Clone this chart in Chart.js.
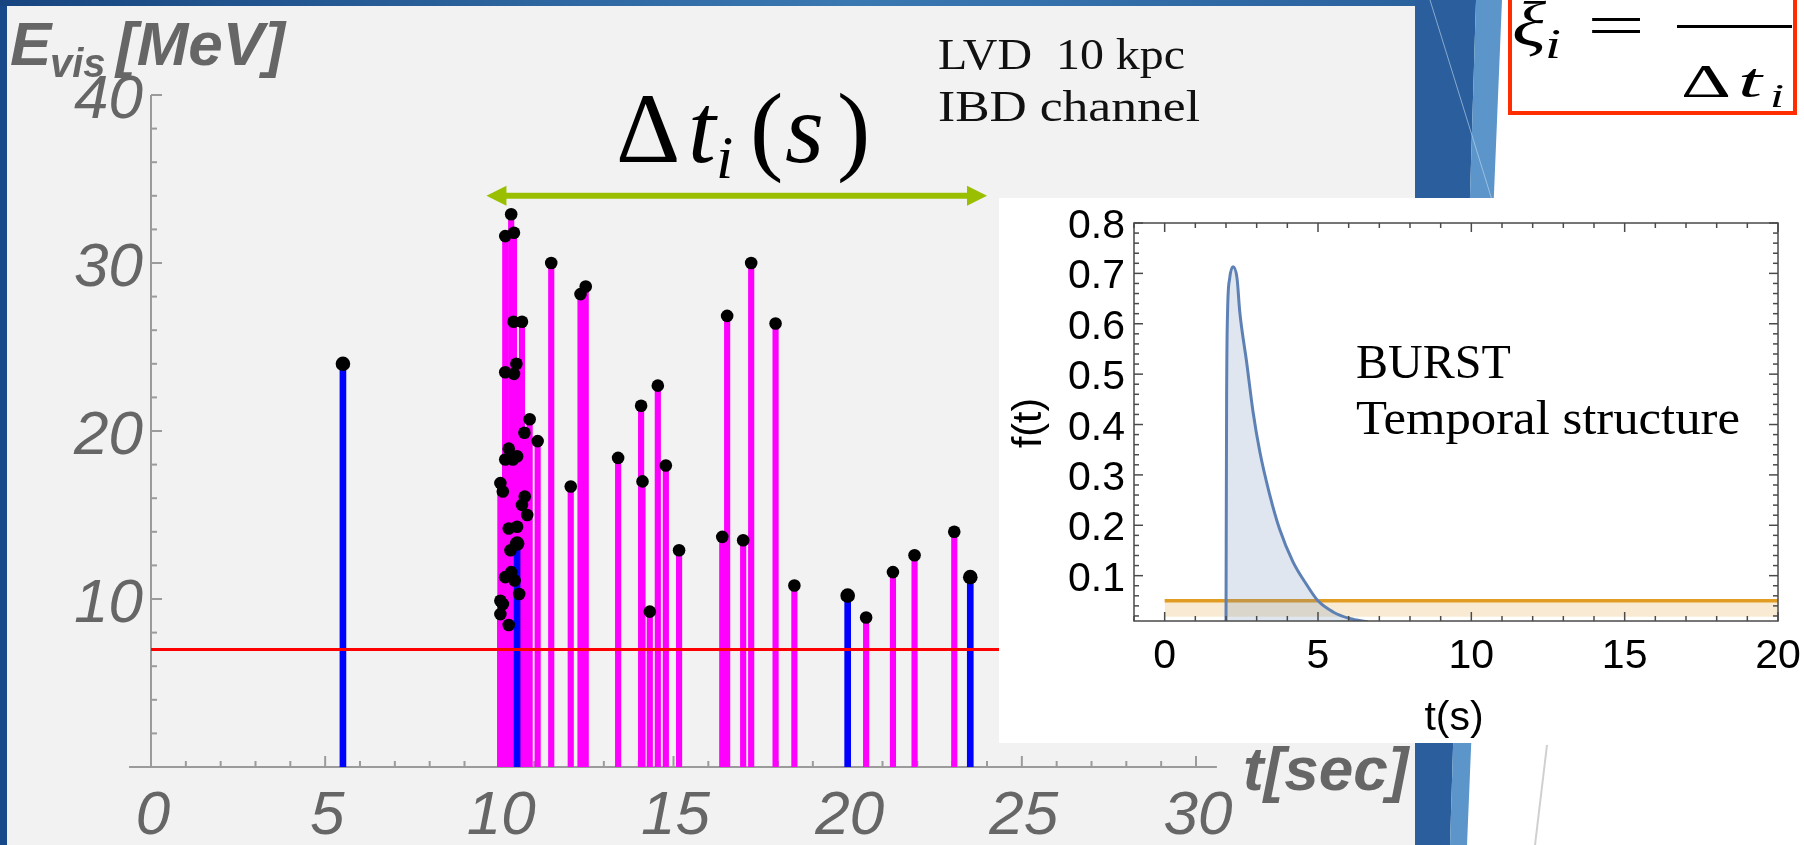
<!DOCTYPE html>
<html>
<head>
<meta charset="utf-8">
<script src="https://cdn.jsdelivr.net/npm/chart.js@4"></script>
<style>
    html, body { margin: 0; padding: 0; background: #fff; overflow: hidden; }
    #wrap { position: relative; width: 1804px; height: 845px; }
    #mainChart { position: absolute; left: 0; top: 0; }
    #insetChart { position: absolute; left: 999px; top: 198px; }
</style>
</head>
<body>
<div id="wrap">
    <canvas id="mainChart" width="1804" height="845"></canvas>
    <canvas id="insetChart" width="805" height="545"></canvas>
</div>
<script>
// events (time in s, visible energy in MeV)
const magentaTimes = [10.03, 10.03, 10.03, 10.10, 10.10, 10.17, 10.17, 10.17, 10.17, 10.27, 10.27, 10.27,
    10.32, 10.34, 10.34, 10.39, 10.41, 10.42, 10.42, 10.44, 10.49, 10.51, 10.51, 10.57, 10.65, 10.65,
    10.72, 10.73, 10.80, 10.87, 11.10, 11.49, 12.05, 12.33, 12.48, 13.41, 14.07, 14.11, 14.32, 14.55,
    14.78, 15.16, 16.40, 16.54, 17.00, 17.23, 17.93, 18.47, 20.53, 21.30, 21.92, 23.06];
const magentaEnergies = [16.9, 9.9, 9.1, 16.4, 9.7, 31.6, 23.5, 18.3, 11.3, 18.95, 14.2, 8.45,
    12.9, 32.9, 11.6, 18.3, 26.5, 31.8, 23.4, 11.1, 24.0, 18.5, 14.3, 10.3, 26.5, 15.6,
    19.9, 16.1, 15.0, 20.7, 19.4, 30.0, 16.7, 28.15, 28.6, 18.4, 21.5, 17.0, 9.25, 22.7,
    17.95, 12.9, 13.7, 26.85, 13.5, 30.0, 26.4, 10.8, 8.9, 11.6, 12.6, 14.0];
const blueTimes = [5.51, 10.51, 20.0, 23.52];
const blueEnergies = [24.0, 13.3, 10.2, 11.3];
const threshold = 7;
const timeTicks = [0, 5, 10, 15, 20, 25, 30];
const energyTicks = [10, 20, 30, 40];
const windowSpan = [9.63, 24.0];   // the green Δt arrow
const windowLevel = 34;

// inset: burst temporal structure f(t) and flat background
const burstT = [2.0, 2.02, 2.05, 2.12, 2.23, 2.36, 2.45, 2.67, 2.88, 3.10, 3.42, 3.75, 4.18, 4.62, 5.0, 5.49, 6.03, 6.63];
const burstF = [0.0, 0.45, 0.62, 0.69, 0.713, 0.69, 0.623, 0.525, 0.426, 0.347, 0.262, 0.192, 0.128, 0.083, 0.05, 0.028, 0.015, 0.008];
const bkgT = [0, 20];
const bkgF = [0.05, 0.05];
const insetXTicks = [0, 5, 10, 15, 20];
const insetYTicks = [0.1, 0.2, 0.3, 0.4, 0.5, 0.6, 0.7, 0.8];

const GRAY = '#666666';
const toPoints = (xs, ys) => xs.map((v, i) => ({ x: v, y: ys[i] }));

function seg(ctx, x1, y1, x2, y2) {
    ctx.beginPath();
    ctx.moveTo(x1, y1);
    ctx.lineTo(x2, y2);
    ctx.stroke();
}

function poly(ctx, pts) {
    ctx.beginPath();
    pts.forEach(([px, py], i) => i ? ctx.lineTo(px, py) : ctx.moveTo(px, py));
    ctx.closePath();
    ctx.fill();
}

// text squeezed/stretched horizontally to a given width (the slide images are stretched)
function fitText(ctx, text, x, y, w) {
    const m = ctx.measureText(text).width;
    ctx.save();
    ctx.translate(x, y);
    ctx.scale(w / m, 1);
    ctx.fillText(text, 0, 0);
    ctx.restore();
}

const slidePlugin = {
    id: 'slide',
    beforeDraw(chart) {
        const ctx = chart.ctx;
        ctx.save();
        ctx.fillStyle = '#ffffff';
        ctx.fillRect(0, 0, chart.width, chart.height);
        ctx.fillStyle = '#f2f2f2';
        ctx.fillRect(7, 6, 1408, 839);

        // blue slide decoration on the right
        ctx.fillStyle = '#2a5e9d';
        poly(ctx, [[1415, 0], [1476, 0], [1450, 845], [1415, 845]]);
        ctx.fillStyle = '#5b95ca';
        poly(ctx, [[1476, 0], [1502, 0], [1467, 845], [1450, 845]]);
        ctx.strokeStyle = 'rgba(200,220,240,0.6)';
        ctx.lineWidth = 1;
        seg(ctx, 1430, 0, 1492, 200);
        ctx.strokeStyle = '#d0d0d0';
        ctx.lineWidth = 2;
        seg(ctx, 1547, 745, 1535, 845);

        // left and top bars
        ctx.fillStyle = '#184a8b';
        ctx.fillRect(0, 0, 7, 845);
        const g = ctx.createLinearGradient(0, 0, 1415, 0);
        g.addColorStop(0, '#17457f');
        g.addColorStop(0.6, '#3a78b2');
        g.addColorStop(1, '#2a629e');
        ctx.fillStyle = g;
        ctx.fillRect(0, 0, 1415, 6);
        ctx.restore();
    },
    beforeDatasetsDraw(chart) {
        const { ctx, scales: { x, y } } = chart;
        const x0 = x.getPixelForValue(0);
        const y0 = y.getPixelForValue(0);
        ctx.save();
        ctx.strokeStyle = '#9b9b9b';
        ctx.lineWidth = 2;
        seg(ctx, x.getPixelForValue(-0.63), y0, x.getPixelForValue(30.6), y0);
        seg(ctx, x0, y0, x0, y.getPixelForValue(40));
        for (let t = 1; t <= 30; t++) {
            const px = x.getPixelForValue(t);
            seg(ctx, px, y0, px, y0 - (t % 5 === 0 ? 11 : 6));
        }
        for (let e = 2; e <= 40; e += 2) {
            const py = y.getPixelForValue(e);
            seg(ctx, x0, py, x0 + (e % 10 === 0 ? 11 : 6), py);
        }
        ctx.restore();
    },
    afterDraw(chart) {
        const { ctx, scales: { x, y } } = chart;
        const x0 = x.getPixelForValue(0);
        ctx.save();

        // tick labels
        ctx.fillStyle = GRAY;
        ctx.font = 'italic 62px "Liberation Sans"';
        ctx.textAlign = 'right';
        ctx.textBaseline = 'alphabetic';
        energyTicks.forEach(e => ctx.fillText(String(e), x0 - 8, y.getPixelForValue(e) + 23));
        ctx.textAlign = 'center';
        timeTicks.forEach(t => ctx.fillText(String(t), x.getPixelForValue(t) + 2, 834));

        // axis titles
        ctx.textAlign = 'left';
        ctx.font = 'bold italic 62px "Liberation Sans"';
        ctx.fillText('E', 10, 65);
        ctx.fillText('[MeV]', 116, 65);
        ctx.fillText('t[sec]', 1243, 790);
        ctx.font = 'bold italic 40px "Liberation Sans"';
        ctx.fillText('vis', 50, 77);

        // detector text
        ctx.fillStyle = '#111';
        ctx.font = '44px "Liberation Serif"';
        fitText(ctx, 'LVD  10 kpc', 938, 69, 247);
        fitText(ctx, 'IBD channel', 938, 121, 262);

        // Δt_i(s)
        ctx.fillStyle = '#000';
        ctx.font = '100px "Liberation Serif"';
        ctx.fillText('Δ', 616, 162);
        ctx.fillText('(', 750, 162);
        ctx.fillText(')', 837, 162);
        ctx.font = 'italic 100px "Liberation Serif"';
        ctx.fillText('t', 688, 162);
        ctx.fillText('s', 785, 162);
        ctx.font = 'italic 62px "Liberation Serif"';
        ctx.fillText('i', 716, 178);

        // green double arrow
        const ya = y.getPixelForValue(windowLevel);
        const xl = x.getPixelForValue(windowSpan[0]);
        const xr = x.getPixelForValue(windowSpan[1]);
        ctx.fillStyle = '#99bf00';
        ctx.strokeStyle = '#99bf00';
        ctx.lineWidth = 6;
        seg(ctx, xl + 15, ya, xr - 15, ya);
        poly(ctx, [[xl, ya], [xl + 20, ya - 10], [xl + 20, ya + 10]]);
        poly(ctx, [[xr, ya], [xr - 20, ya - 10], [xr - 20, ya + 10]]);

        // formula box
        ctx.fillStyle = '#fff';
        ctx.fillRect(1510, -10, 285, 123);
        ctx.strokeStyle = '#ff2d00';
        ctx.lineWidth = 4;
        ctx.strokeRect(1510, -10, 285, 123);
        ctx.fillStyle = '#000';
        ctx.font = 'italic 64px "Liberation Serif"';
        fitText(ctx, 'ξ', 1512, 46, 34);
        ctx.font = 'italic 42px "Liberation Serif"';
        fitText(ctx, 'i', 1545, 58, 16);
        ctx.font = '62px "Liberation Serif"';
        fitText(ctx, '=', 1587, 46, 58);
        ctx.fillRect(1677, 25, 115, 3);
        ctx.font = '46px "Liberation Serif"';
        fitText(ctx, 'Δ', 1681, 97, 50);
        ctx.font = 'italic 48px "Liberation Serif"';
        fitText(ctx, 't', 1738, 97, 24);
        ctx.font = 'italic 34px "Liberation Serif"';
        fitText(ctx, 'i', 1770, 107, 14);
        ctx.restore();
    }
};

new Chart(document.getElementById('mainChart'), {
    type: 'bar',
    data: {
        datasets: [
            {
                data: toPoints(magentaTimes, magentaEnergies),
                backgroundColor: '#ff00ff',
                barThickness: 5.5,
                grouped: false,
                borderWidth: 0,
                order: 5
            },
            {
                data: toPoints(blueTimes, blueEnergies),
                backgroundColor: '#0000ff',
                barThickness: 6,
                grouped: false,
                borderWidth: 0,
                order: 4
            },
            {
                type: 'line',
                data: [{ x: 0, y: threshold }, { x: 30, y: threshold }],
                borderColor: '#ff0000',
                borderWidth: 3,
                pointRadius: 0,
                order: 3
            },
            {
                type: 'scatter',
                data: toPoints(magentaTimes, magentaEnergies),
                backgroundColor: '#000',
                borderWidth: 0,
                pointRadius: 6.3,
                order: 2
            },
            {
                type: 'scatter',
                data: toPoints(blueTimes, blueEnergies),
                backgroundColor: '#000',
                borderWidth: 0,
                pointRadius: 7.3,
                order: 1
            }
        ]
    },
    options: {
        responsive: false,
        animation: false,
        devicePixelRatio: 1,
        layout: { padding: { left: 151, right: 608, top: 95, bottom: 78 } },
        plugins: { legend: { display: false }, tooltip: { enabled: false } },
        scales: {
            x: { type: 'linear', min: 0, max: 30, display: false, offset: false },
            y: { type: 'linear', min: 0, max: 40, display: false }
        }
    },
    plugins: [slidePlugin]
});

const insetPlugin = {
    id: 'insetFrame',
    beforeDraw(chart) {
        chart.ctx.save();
        chart.ctx.fillStyle = '#ffffff';
        chart.ctx.fillRect(0, 0, chart.width, chart.height);
        chart.ctx.restore();
    },
    afterDraw(chart) {
        const { ctx, chartArea: a, scales: { x, y } } = chart;
        ctx.save();
        ctx.strokeStyle = '#4a4a4a';
        ctx.lineWidth = 1.5;
        ctx.strokeRect(a.left, a.top, a.right - a.left, a.bottom - a.top);
        for (let t = -1; t <= 20; t++) {
            const px = x.getPixelForValue(t);
            const len = t % 5 === 0 ? 9 : 5;
            seg(ctx, px, a.bottom, px, a.bottom - len);
            seg(ctx, px, a.top, px, a.top + len);
        }
        for (let i = 1; i <= 40; i++) {
            const py = y.getPixelForValue(i * 0.02);
            const len = i % 5 === 0 ? 9 : 5;
            seg(ctx, a.left, py, a.left + len, py);
            seg(ctx, a.right, py, a.right - len, py);
        }

        ctx.fillStyle = '#000';
        ctx.font = '41px "Liberation Sans"';
        ctx.textAlign = 'right';
        insetYTicks.forEach(v => ctx.fillText(v.toFixed(1), a.left - 9, y.getPixelForValue(v) + 15));
        ctx.textAlign = 'center';
        insetXTicks.forEach(t => ctx.fillText(String(t), x.getPixelForValue(t), a.bottom + 47));
        ctx.fillText('t(s)', 455, 532);
        ctx.save();
        ctx.translate(31, 225);
        ctx.rotate(-Math.PI / 2);
        ctx.textBaseline = 'middle';
        ctx.fillText('f(t)', 0, 0);
        ctx.restore();

        ctx.textAlign = 'left';
        ctx.font = '48px "Liberation Serif"';
        ctx.fillText('BURST', 357, 180);
        fitText(ctx, 'Temporal structure', 357, 236, 384);
        ctx.restore();
    }
};

new Chart(document.getElementById('insetChart'), {
    type: 'line',
    data: {
        datasets: [
            {
                data: toPoints(bkgT, bkgF),
                borderColor: '#e19c24',
                borderWidth: 3.5,
                pointRadius: 0,
                fill: { value: 0.0185 },
                backgroundColor: 'rgba(225,156,36,0.2)',
                order: 2
            },
            {
                data: toPoints(burstT, burstF),
                borderColor: '#5e81b5',
                borderWidth: 3,
                pointRadius: 0,
                cubicInterpolationMode: 'monotone',
                fill: 'origin',
                backgroundColor: 'rgba(94,129,181,0.2)',
                order: 1
            }
        ]
    },
    options: {
        responsive: false,
        animation: false,
        devicePixelRatio: 1,
        layout: { padding: { left: 135, right: 26, top: 25, bottom: 122 } },
        plugins: { legend: { display: false }, tooltip: { enabled: false } },
        scales: {
            x: { type: 'linear', min: -1, max: 20, display: false },
            y: { type: 'linear', min: 0.01, max: 0.8, display: false }
        }
    },
    plugins: [insetPlugin]
});
</script>
</body>
</html>
